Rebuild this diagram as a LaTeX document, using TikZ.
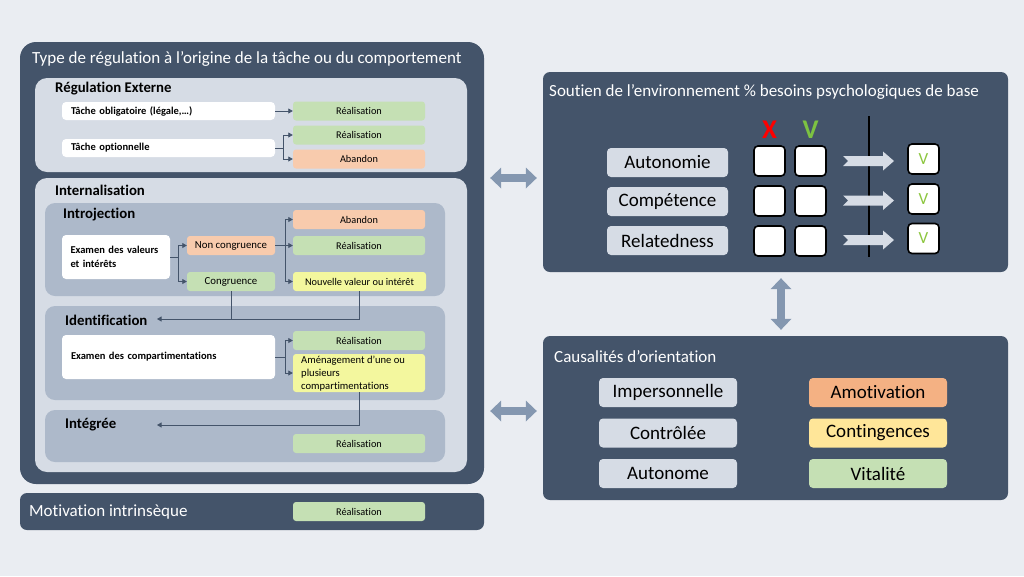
\documentclass[tikz,border=0pt]{standalone}
\usepackage{fontspec}
\setmainfont[Ligatures=NoCommon]{Carlito}
\usetikzlibrary{arrows.meta}
\definecolor{bg}{HTML}{EAEDF2}
\definecolor{dark}{HTML}{44546A}
\definecolor{light}{HTML}{D6DCE5}
\definecolor{mid}{HTML}{ADB9CA}
\definecolor{grn}{HTML}{C5E0B4}
\definecolor{org}{HTML}{F8CBAD}
\definecolor{yel}{HTML}{F3F79E}
\definecolor{amo}{HTML}{F4B183}
\definecolor{cont}{HTML}{FFE699}
\definecolor{dblc}{HTML}{8497B0}
\definecolor{vgrn}{HTML}{7CC242}
\definecolor{vsm}{HTML}{8CC63F}
\begin{document}
\begin{tikzpicture}[x=1pt,y=-1pt,
  panel/.style={fill=dark, rounded corners=7pt, inner sep=0pt},
  subpanel/.style={fill=light, rounded corners=12pt, minimum width=432pt, inner sep=0pt},
  midpanel/.style={fill=mid, rounded corners=10pt, minimum width=400pt, inner sep=0pt},
  res/.style={rounded corners=3pt, minimum width=132pt, minimum height=19pt, inner sep=0pt, font=\fontsize{10.3}{12}\selectfont},
  wbox/.style={fill=white, rounded corners=4pt, inner ysep=0pt, inner xsep=9pt, align=left, font=\bfseries\fontsize{10.5}{13.5}\selectfont},
  ttl/.style={anchor=west, inner sep=0pt, font=\bfseries\fontsize{14.8}{17}\selectfont},
  wttl/.style={anchor=west, inner sep=0pt, text=white, font=\fontsize{17}{20}\selectfont},
  lnk/.style={draw=dark, line width=0.8pt, -{Triangle[length=4.5pt,width=5pt]}},
  plain/.style={draw=dark, line width=0.8pt},
  dbl/.style={draw=dblc, line width=8pt, {Triangle[width=21pt,length=11pt,line width=0pt]}-{Triangle[width=21pt,length=11pt,line width=0pt]}, shorten <=6pt, shorten >=6pt},
  lab/.style={fill=light, rounded corners=4pt, inner sep=0pt, minimum height=29pt, font=\fontsize{19}{22}\selectfont},
  sq/.style={fill=white, draw=black, line width=1.6pt, rounded corners=4pt, minimum width=31pt, minimum height=30pt, inner sep=0pt},
  chev/.style={fill=light}
]
\fill[bg] (0,0) rectangle (1024,576);
\useasboundingbox (0,0) rectangle (1024,576);

% ---------- Left panel ----------
\node[panel, rounded corners=16pt, minimum width=464pt, minimum height=442pt] (L) at (252,263) {};
\node[wttl] (Lt) at (32,59) {Type de régulation à l’origine de la tâche ou du comportement};

% Regulation externe
\node[subpanel, minimum height=94pt] (RE) at (251,125) {};
\node[ttl] (REt) at (55,89) {Régulation Externe};
\node[wbox, minimum width=213pt, minimum height=18pt, text width=195pt] (TO) at (168.5,111) {Tâche obligatoire (légale,…)};
\node[wbox, minimum width=213pt, minimum height=18pt, text width=195pt] (TP) at (168.5,148) {Tâche optionnelle};
\node[res, fill=grn] (R1) at (359,111) {Réalisation};
\node[res, fill=grn] (R2) at (359,135) {Réalisation};
\node[res, fill=org] (A1) at (359,159) {Abandon};
\draw[lnk] (TO.east) -- (R1.west);
\draw[lnk] (TP.east) -- ++(8,0) |- (R2.west);
\draw[lnk] (TP.east) -- ++(8,0) |- (A1.west);

% Internalisation
\node[subpanel, minimum height=294pt] (IN) at (251,325) {};
\node[ttl] (INt) at (55,190) {Internalisation};

% Introjection
\node[midpanel, minimum height=93pt] (IJ) at (245,249.5) {};
\node[ttl] (IJt) at (63,215) {Introjection};
\node[wbox, minimum width=108pt, minimum height=44pt, text width=91pt, inner xsep=8.5pt] (EV) at (116,257) {Examen des valeurs\\et intérêts};
\node[res, fill=org, minimum width=88pt, font=\fontsize{10.8}{12}\selectfont] (NC) at (231,245.5) {Non congruence};
\node[res, fill=grn, minimum width=88pt, font=\fontsize{10.8}{12}\selectfont] (CG) at (231,281.5) {Congruence};
\node[res, fill=org] (A2) at (359,219.5) {Abandon};
\node[res, fill=grn] (R3) at (359,245.5) {Réalisation};
\node[res, fill=yel, minimum width=133pt] (NV) at (359.5,281.5) {Nouvelle valeur ou intérêt};
\draw[lnk] (EV.east) -- ++(8,0) |- (NC.west);
\draw[lnk] (EV.east) -- ++(8,0) |- (CG.west);
\draw[lnk] (NC.east) -- ++(10,0) |- (A2.west);
\draw[lnk] (NC.east) -- (R3.west);
\draw[lnk] (NC.east) -- ++(10,0) |- (NV.west);

% Identification
\node[midpanel, minimum height=94pt] (ID) at (245,353) {};
\node[ttl] (IDt) at (65,320) {Identification};
\coordinate (idarr) at (157,319);
\draw[lnk] (NV.south) |- (idarr);
\draw[plain] (CG.south) -- (CG.south |- idarr);
\node[wbox, minimum width=213pt, minimum height=44pt, text width=195pt] (EC) at (168.5,357) {Examen des compartimentations};
\node[res, fill=grn] (R4) at (359,340.5) {Réalisation};
\node[res, fill=yel, minimum height=38pt] (AM) at (359,373) {};
\node[anchor=west, align=left, inner sep=0pt, font=\fontsize{10.6}{12.8}\selectfont] (AMt) at (301,373.5) {Aménagement d’une ou\\plusieurs\\compartimentations};
\draw[lnk] (EC.east) -- ++(10,0) |- (R4.west);
\draw[lnk] (EC.east) -- ++(10,0) |- (AM.west);

% Integree
\node[midpanel, minimum height=52pt] (IG) at (245,436) {};
\node[ttl] (IGt) at (65,425) {Intégrée};
\coordinate (igarr) at (157,425);
\draw[lnk] (AM.south) |- (igarr);
\node[res, fill=grn] (R5) at (359,443.5) {Réalisation};

% Motivation intrinseque
\node[panel, minimum width=464pt, minimum height=37pt] (MI) at (252,511.5) {};
\node[wttl] (MIt) at (29,512) {Motivation intrinsèque};
\node[res, fill=grn] (R6) at (359,511.5) {Réalisation};

% ---------- Right panel 1 ----------
\node[panel, minimum width=465pt, minimum height=200pt] (P1) at (775.5,172) {};
\node[wttl] (P1t) at (549,92) {Soutien de l’environnement \% besoins psychologiques de base};
\node[lab, minimum width=121pt] (Au) at (667.5,162.5) {Autonomie};
\node[lab, minimum width=121pt] (Co) at (667.5,201.5) {Compétence};
\node[lab, minimum width=121pt] (Re) at (667.5,240.5) {Relatedness};
\node[text=red, font=\bfseries\fontsize{27}{30}\selectfont, inner sep=0pt] (X) at (769.5,130) {X};
\node[text=vgrn, font=\bfseries\fontsize{27}{30}\selectfont, inner sep=0pt] (V) at (810.5,130) {V};
\foreach \r/\y in {1/161,2/201,3/241}{
  \node[sq] (a\r) at (769.5,\y) {};
  \node[sq] (b\r) at (810.5,\y) {};
}
\draw[black, line width=1.3pt] (869,116) -- (869,257);
\foreach \r/\y in {1/161,2/200.5,3/240}{
  \fill[chev] (843,\y-5) -- (883,\y-5) -- (883,\y-9.5) -- (894,\y) -- (883,\y+9.5) -- (883,\y+5) -- (843,\y+5) -- (848,\y) -- cycle;
}
\foreach \r/\y in {1/159,2/199,3/238.5}{
  \node[sq, text=vsm, font=\fontsize{17}{19}\selectfont] (c\r) at (923.5,\y) {V};
}

% ---------- Right panel 2 ----------
\node[panel, minimum width=465pt, minimum height=164pt] (P2) at (775.5,418) {};
\node[wttl] (P2t) at (554,357) {Causalités d’orientation};
\node[lab, minimum width=138pt] (Im) at (668,392.5) {Impersonnelle};
\node[lab, minimum width=138pt] (Ct) at (668,433) {Contrôlée};
\node[lab, minimum width=138pt] (At) at (668,473.5) {Autonome};
\node[lab, minimum width=138pt, fill=amo] (Am) at (878,392.5) {Amotivation};
\node[lab, minimum width=138pt, fill=cont] (Cn) at (878,433) {Contingences};
\node[lab, minimum width=138pt, fill=grn] (Vi) at (878,473.5) {Vitalité};

% ---------- Double arrows ----------
\draw[dbl] (L.east |- 0,178) -- (P1.west |- 0,178);
\draw[dbl] (L.east |- 0,411) -- (P2.west |- 0,411);
\draw[dbl] (P1.south -| 781,0) -- (P2.north -| 781,0);
\end{tikzpicture}
\end{document}
